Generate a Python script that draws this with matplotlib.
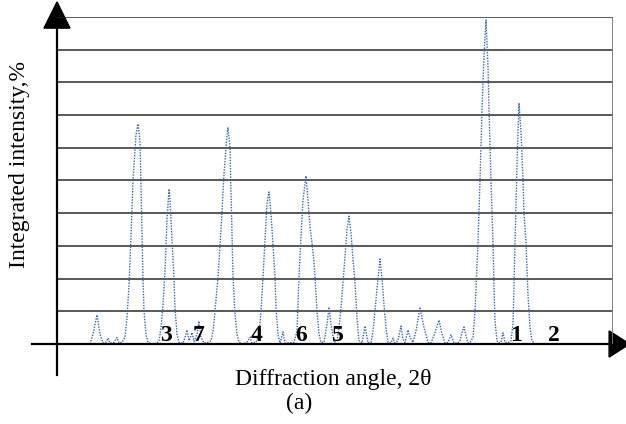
import matplotlib
matplotlib.use("Agg")
import matplotlib.pyplot as plt
from matplotlib.patches import Polygon

plt.rcParams['font.family'] = ['Liberation Serif', 'DejaVu Serif']

# diffraction profile (arbitrary angle units, intensity in %)
two_theta = [33, 36, 40, 43, 46, 49, 51, 53, 57, 60, 62, 65,
             68, 70, 72, 74, 76, 79, 81, 83, 84, 85, 86, 87, 89, 91, 95, 100,
             102, 104, 106, 108, 110, 112, 113, 115, 117, 118, 120, 122, 126,
             128, 130, 132, 134, 135, 137, 140, 142, 144, 147, 151,
             154, 156, 158, 161, 164, 167, 170, 171, 173, 174, 175, 176, 178, 180, 182, 186, 190,
             193, 195,
             199, 202, 204, 206, 208, 210, 212, 214, 216, 218, 219, 221, 223, 226, 228,
             237, 240, 242, 244, 246, 249, 251, 253, 255, 257, 258, 260, 262, 264,
             267, 270, 272, 274, 277,
             280, 282, 284, 286, 288, 290, 292, 294, 296, 298, 300, 302, 305, 308, 311,
             314, 316, 318, 320, 323, 325, 327, 329, 331,
             334, 336, 338, 341, 344, 346, 348, 351, 353, 356, 359, 363, 367, 371,
             374, 378, 382, 385, 388, 391, 394, 397, 400, 403, 405, 407, 409, 411, 413,
             416, 418, 421, 423, 425, 427, 429, 431, 432, 434, 436, 437, 438, 440, 442,
             444, 446, 448, 451,
             454, 456, 457, 458, 460, 462, 464, 466, 467, 469, 471, 473, 475, 478, 483]
intensity = [0, 3, 8.9, 3, 0.3, 0.5, 1.8, 0.3, 0.5, 2.0, 0.3, 0.5,
             2, 8, 18, 33, 50, 64, 67.3, 62, 48, 33, 20, 10, 3, 0.5, 0, 0.3,
             1, 5, 12, 22, 38, 47.4, 44, 32, 20, 11, 3, 0.5, 0.2,
             2, 4.3, 1, 2.5, 3.5, 0.8, 3, 7.0, 2, 0.3, 0.5,
             1, 4, 10, 20.5, 35, 52, 64, 66.1, 60, 47, 33, 20.5, 9, 3, 0.5, 0, 0.5,
             2.1, 0.3,
             0.5, 3, 10, 20.5, 32, 43, 46.5, 40, 30, 20.5, 11, 3, 0.3, 3.7, 0.3,
             0.5, 4, 20.5, 33, 44, 51.4, 44, 36, 30.9, 25, 20.5, 10, 3, 0.5,
             0.5, 6, 11.0, 6, 0.5,
             1, 5, 11, 18.7, 27, 35, 39.1, 34, 26, 18.7, 8, 1, 0.3, 5.5, 0.3,
             0.5, 4, 10, 17, 26.0, 20, 12, 5, 0.5,
             0.3, 1.8, 0.3, 1, 5.5, 1.5, 0.5, 4.3, 2, 0.5, 4, 11.0, 5, 0.5,
             0.3, 3.5, 7.3, 3, 0.3, 0.5, 2.8, 0.3, 0.2, 1, 3.5, 5.2, 2.5, 0.3, 0.5,
             2, 10, 30.9, 50, 71.6, 88, 99.1, 85, 71.6, 50, 30.9, 17, 7, 1, 0.3,
             0.5, 3.4, 0.5, 0.3,
             1, 6, 18, 30.9, 55, 73.7, 65, 50, 40, 30.9, 15, 5, 1, 0, 0]

peak_labels = ['3', '7', '4', '6', '5', '1', '2']
label_pos = [109, 142, 200, 244, 281, 459, 497]

grid_levels = [10, 20, 30, 40, 50, 60, 70, 80, 90, 100]

fig = plt.figure(figsize=(6.26, 4.24), dpi=100)
ax = fig.add_axes([57 / 626, 80 / 424, 556 / 626, 327 / 424])
ax.set_xlim(0, 556)
ax.set_ylim(0, 100)
ax.axis('off')

# horizontal rules and right border
ax.hlines(grid_levels, 0, 556, colors='#2b2b2b', linewidth=1.1)
ax.vlines(556, 0, 100, colors='#777777', linewidth=1.3)

ax.plot(two_theta, intensity, color='#3a64a8', linewidth=1.0,
        linestyle=(0, (1, 1)))

for lab, xp in zip(peak_labels, label_pos):
    ax.text(xp, 0.9, lab, ha='center', va='baseline', fontsize=17,
            fontweight='bold', color='black')

# axes with arrow heads
tr = ax.transAxes
ax.plot([-0.045, 0.995], [0, 0], color='black', linewidth=1.6,
        transform=tr, clip_on=False)
ax.plot([0, 0], [-0.095, 0.97], color='black', linewidth=1.6,
        transform=tr, clip_on=False)
ax.add_patch(Polygon([[-0.0234, 0.966], [0.0234, 0.966], [0, 1.046]],
                     closed=True, color='black', transform=tr, clip_on=False))
ax.add_patch(Polygon([[0.993, 0.040], [0.993, -0.040], [1.03, 0]],
                     closed=True, color='black', transform=tr, clip_on=False))

fig.text(20 / 626, 1 - 165 / 424, 'Integrated intensity,%', rotation=90,
         ha='center', va='center', fontsize=17)
fig.text(333 / 626, 1 - 379 / 424, 'Diffraction angle, 2\u03b8',
         ha='center', va='center', fontsize=17)
fig.text(299 / 626, 1 - 403 / 424, '(a)', ha='center', va='center',
         fontsize=17)

fig.savefig('out.png', dpi=100)
